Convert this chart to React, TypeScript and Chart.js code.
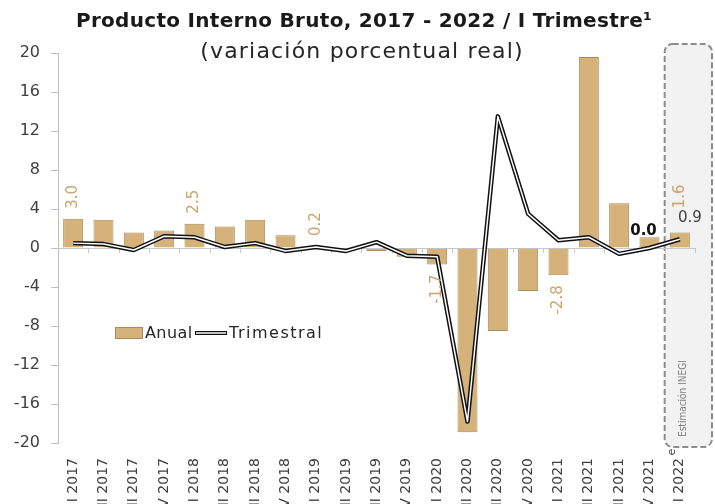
import React, { useEffect, useRef } from 'react';
import { Chart, registerables } from 'chart.js';

Chart.register(...registerables);

const categories = [
  'I 2017', 'II 2017', 'III 2017', 'IV 2017',
  'I 2018', 'II 2018', 'III 2018', 'IV 2018',
  'I 2019', 'II 2019', 'III 2019', 'IV 2019',
  'I 2020', 'II 2020', 'III 2020', 'IV 2020',
  'I 2021', 'II 2021', 'III 2021', 'IV 2021',
  'I 2022',
];
const estimateSuperscript = 'e';
const anual = [3.0, 2.9, 1.6, 1.8, 2.5, 2.2, 2.9, 1.3, 0.2, -0.1, -0.3, -0.9, -1.7, -18.9, -8.5, -4.4, -2.8, 19.6, 4.6, 1.1, 1.6];
const trimestral = [0.5, 0.4, -0.2, 1.2, 1.1, 0.1, 0.5, -0.3, 0.1, -0.3, 0.6, -0.8, -0.9, -17.8, 13.5, 3.5, 0.8, 1.1, -0.6, 0.0, 0.9];
const anualLabelIdx = [0, 4, 8, 12, 16, 20];
const trimLabelIdx = [19, 20];
const yTicks = [-20, -16, -12, -8, -4, 0, 4, 8, 12, 16, 20];

const title = 'Producto Interno Bruto, 2017 - 2022 / I Trimestre\u00B9';
const subtitle = '(variación porcentual real)';
const boxText = 'Estimación INEGI';
const legendAnual = 'Anual';
const legendTrim = 'Trimestral';

const FONT = '"DejaVu Sans", sans-serif';
const TAN = '#d6b27b';
const TAN_BORDER = '#a98a58';
const TAN_TEXT = '#c9a46c';

function setSpacing(ctx: any, px: number) {
  if ('letterSpacing' in ctx) ctx.letterSpacing = `${px}px`;
}

const decoPlugin = {
  id: 'deco',
  beforeDatasetsDraw(chart: any) {
    const { ctx, chartArea } = chart;
    const xs = chart.scales.x;
    const ys = chart.scales.y;
    ctx.save();
    // estimate box
    const bx0 = (xs.getPixelForValue(19) + xs.getPixelForValue(20)) / 2;
    const bx1 = 712;
    const by0 = 44;
    const by1 = 447;
    ctx.beginPath();
    (ctx as any).roundRect(bx0, by0, bx1 - bx0, by1 - by0, 8);
    ctx.fillStyle = '#f2f2f2';
    ctx.fill();
    ctx.setLineDash([6, 3]);
    ctx.lineWidth = 2;
    ctx.strokeStyle = '#8c8c8c';
    ctx.stroke();
    ctx.setLineDash([]);
    // box text
    ctx.save();
    ctx.translate(xs.getPixelForValue(20) + 4, 437);
    ctx.rotate(-Math.PI / 2);
    ctx.font = '10px "DejaVu Sans Condensed", "DejaVu Sans", sans-serif';
    ctx.fillStyle = '#7f7f7f';
    ctx.textAlign = 'left';
    ctx.textBaseline = 'middle';
    ctx.fillText(boxText, 0, 0);
    ctx.restore();
    // zero line with ticks
    const y0 = ys.getPixelForValue(0);
    ctx.strokeStyle = '#c3c9d1';
    ctx.lineWidth = 1;
    ctx.beginPath();
    ctx.moveTo(chartArea.left, y0 + 0.5);
    ctx.lineTo(chartArea.right, y0 + 0.5);
    for (let i = 0; i < categories.length; i++) {
      const b = i < categories.length - 1
        ? (xs.getPixelForValue(i) + xs.getPixelForValue(i + 1)) / 2
        : chartArea.right;
      ctx.moveTo(Math.round(b) + 0.5, y0);
      ctx.lineTo(Math.round(b) + 0.5, y0 + 5);
    }
    ctx.stroke();
    ctx.restore();
  },
  afterDraw(chart: any) {
    const { ctx } = chart;
    const xs = chart.scales.x;
    ctx.save();
    // title
    ctx.fillStyle = '#1a1a1a';
    ctx.textAlign = 'center';
    ctx.textBaseline = 'middle';
    ctx.font = `bold 20px ${FONT}`;
    setSpacing(ctx, 0.3);
    ctx.fillText(title, 364, 22);
    ctx.font = `22px ${FONT}`;
    setSpacing(ctx, 1.2);
    ctx.fillStyle = '#262626';
    ctx.fillText(subtitle, 362, 52);
    setSpacing(ctx, 0);

    // data labels: anual
    const barMeta = chart.getDatasetMeta(0);
    ctx.font = `15px ${FONT}`;
    ctx.fillStyle = TAN_TEXT;
    anualLabelIdx.forEach((i) => {
      const el = barMeta.data[i];
      const v = anual[i];
      const off = i === categories.length - 1 ? 24 : 10;
      ctx.save();
      ctx.translate(el.x, v >= 0 ? el.y - off : el.y + off);
      ctx.rotate(-Math.PI / 2);
      ctx.textAlign = v >= 0 ? 'left' : 'right';
      ctx.textBaseline = 'middle';
      ctx.fillText(v.toFixed(1), 0, 0);
      ctx.restore();
    });
    // data labels: trimestral
    const lineMeta = chart.getDatasetMeta(2);
    trimLabelIdx.forEach((i, k) => {
      const el = lineMeta.data[i];
      ctx.font = k === 0 ? `bold 15px ${FONT}` : `15px ${FONT}`;
      ctx.fillStyle = k === 0 ? '#111111' : '#404040';
      ctx.textAlign = 'center';
      ctx.textBaseline = 'bottom';
      ctx.fillText(trimestral[i].toFixed(1), el.x + (k === 0 ? -6 : 10), el.y - (k === 0 ? 9 : 14));
    });

    // superscript e on last category
    ctx.save();
    const lx = xs.getPixelForValue(categories.length - 1);
    ctx.translate(lx - 8, 452);
    ctx.rotate(-Math.PI / 2);
    ctx.font = `11px ${FONT}`;
    ctx.fillStyle = '#404040';
    ctx.textAlign = 'center';
    ctx.textBaseline = 'middle';
    ctx.fillText(estimateSuperscript, 0, 0);
    ctx.restore();

    // legend
    const ly = 333;
    ctx.fillStyle = TAN;
    ctx.fillRect(115, ly - 6, 28, 12);
    ctx.strokeStyle = TAN_BORDER;
    ctx.lineWidth = 1;
    ctx.strokeRect(115.5, ly - 5.5, 27, 11);
    ctx.font = `16px ${FONT}`;
    ctx.fillStyle = '#262626';
    ctx.textAlign = 'left';
    ctx.textBaseline = 'middle';
    setSpacing(ctx, 0.4);
    ctx.fillText(legendAnual, 145, ly + 1);
    ctx.strokeStyle = '#111111';
    ctx.lineWidth = 4;
    ctx.beginPath();
    ctx.moveTo(195, ly);
    ctx.lineTo(227, ly);
    ctx.stroke();
    ctx.strokeStyle = '#ffffff';
    ctx.lineWidth = 1.5;
    ctx.beginPath();
    ctx.moveTo(196, ly);
    ctx.lineTo(226, ly);
    ctx.stroke();
    ctx.fillStyle = '#262626';
    setSpacing(ctx, 1.5);
    ctx.fillText(legendTrim, 229, ly + 1);
    setSpacing(ctx, 0);
    ctx.restore();
  },
};

export default function App() {
  const ref = useRef<HTMLCanvasElement | null>(null);
  useEffect(() => {
    if (!ref.current) return;
    const chart = new Chart(ref.current, {
      type: 'bar',
      data: {
        labels: categories,
        datasets: [
          {
            type: 'bar',
            label: legendAnual,
            data: anual,
            backgroundColor: TAN,
            borderColor: TAN_BORDER,
            borderWidth: 1,
            barPercentage: 0.66,
            categoryPercentage: 1,
            order: 3,
          },
          {
            type: 'line',
            label: legendTrim + ' outline',
            data: trimestral,
            borderColor: '#111111',
            borderWidth: 4.5,
            pointRadius: 0,
            tension: 0,
            borderJoinStyle: 'round',
            order: 2,
          },
          {
            type: 'line',
            label: legendTrim,
            data: trimestral,
            borderColor: '#ffffff',
            borderWidth: 1.5,
            pointRadius: 0,
            tension: 0,
            borderJoinStyle: 'round',
            order: 1,
          },
        ] as any,
      },
      options: {
        animation: false,
        responsive: false,
        layout: { padding: { top: 53, right: 20, left: 0, bottom: 0 } },
        plugins: {
          legend: { display: false },
          tooltip: { enabled: false },
          title: { display: false },
        },
        scales: {
          x: {
            grid: { display: false, drawTicks: false },
            border: { display: false },
            ticks: {
              autoSkip: false,
              minRotation: 90,
              maxRotation: 90,
              padding: 15,
              color: '#404040',
              font: { family: FONT, size: 14 },
            },
            afterFit: (s: any) => { s.height = 72; },
          },
          y: {
            min: yTicks[0],
            max: yTicks[yTicks.length - 1],
            afterBuildTicks: (s: any) => { s.ticks = yTicks.map((v) => ({ value: v })); },
            grid: { drawOnChartArea: false, drawTicks: true, tickLength: 7, color: '#bfbfbf' },
            border: { color: '#bfbfbf' },
            ticks: {
              padding: 11,
              color: '#404040',
              font: { family: FONT, size: 16 },
            },
            afterFit: (s: any) => { s.width = 58; },
          },
        },
      },
      plugins: [decoPlugin],
    });
    return () => chart.destroy();
  }, []);
  return (
    <div style={{ position: 'absolute', left: 0, top: 0, width: 715, height: 515, background: '#ffffff' }}>
      <canvas ref={ref} width={715} height={515} style={{ display: 'block' }} />
    </div>
  );
}
